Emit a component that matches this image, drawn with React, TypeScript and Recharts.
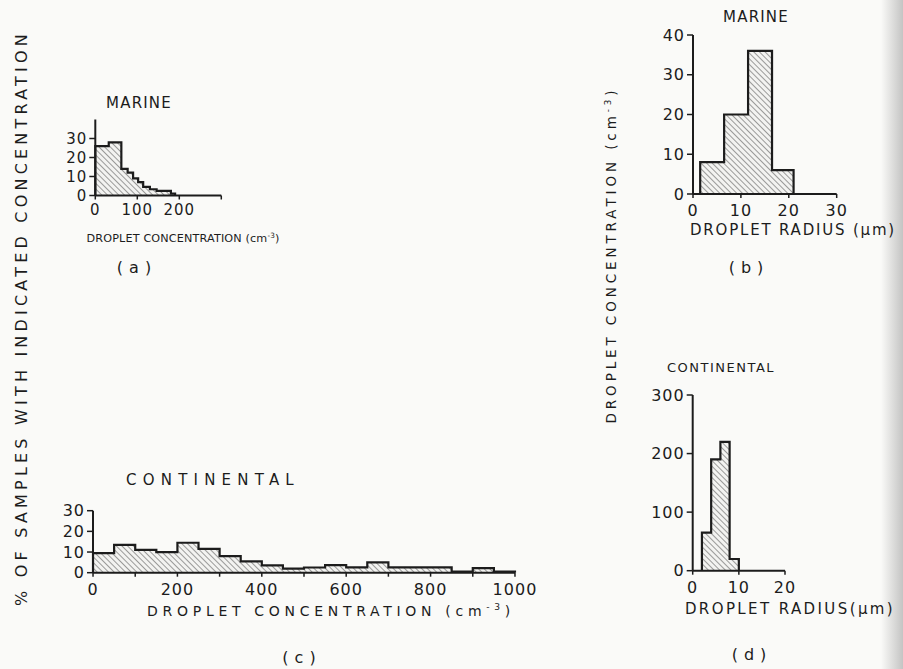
import React from 'react';
import { AreaChart, Area, XAxis, YAxis } from 'recharts';

// (a) marine, droplet concentration (cm-3) vs % of samples
const marineConcEdges = [0, 32, 62, 77, 90, 102, 114, 130, 146, 180, 190];
const marineConcPct = [26, 28, 14, 12, 9, 7, 4.5, 3.3, 2.4, 1];

// (b) marine, droplet radius (um) vs concentration
const marineRadEdges = [1.5, 6.5, 11.5, 16.5, 21];
const marineRadConc = [8, 20, 36, 6];

// (c) continental, droplet concentration, bins of 50 cm-3
const contConcEdges = [0, 50, 100, 150, 200, 250, 300, 350, 400, 450, 500, 550, 600, 650, 700, 750, 800, 850, 900, 950, 1000];
const contConcPct = [9.5, 13.5, 11, 10, 14.5, 11.5, 8, 5.5, 3.5, 2, 2.5, 3.7, 2.6, 5, 2.6, 2.6, 2.6, 0.5, 2.2, 0.5];

// (d) continental, droplet radius
const contRadEdges = [2, 4, 6, 8, 10];
const contRadConc = [65, 190, 220, 20];

const ticksA = [0, 100, 200, 300];
const ticksB = [0, 10, 20, 30];
const ticksC = [0, 100, 200, 300, 400, 500, 600, 700, 800, 900, 1000];
const ticksD = [0, 10, 20];
const yTicksPct = [0, 10, 20, 30];
const yTicksB = [0, 10, 20, 30, 40];
const yTicksD = [0, 100, 200, 300];

const ink = '#1c1c1c';
const font = '"DejaVu Sans", sans-serif';

// step outline: drop from baseline at first edge, hold each value, back down at last edge
function steps(edges: number[], vals: number[]) {
  const pts = [{ x: edges[0], v: 0 }];
  vals.forEach((v, i) => pts.push({ x: edges[i], v }));
  pts.push({ x: edges[edges.length - 1], v: vals[vals.length - 1] });
  pts.push({ x: edges[edges.length - 1], v: 0 });
  return pts;
}

type HistProps = {
  id: string;
  left: number; top: number;
  yw: number; mt: number; pw: number; ph: number;
  edges: number[]; vals: number[];
  xDomain: [number, number]; yDomain: [number, number];
  xTicks: number[]; yTicks: number[];
  fontSize: number; xMargin: number;
  xFmt?: (v: number) => string;
};

function Hist(p: HistProps) {
  const data = steps(p.edges, p.vals);
  const xh = 34;
  const tickStyle = { fill: ink, fontSize: p.fontSize, fontFamily: font, letterSpacing: 1 };
  return (
    <div style={{ position: 'absolute', left: p.left, top: p.top }}>
      <AreaChart width={p.yw + p.pw + 24} height={p.mt + p.ph + xh} data={data}
        margin={{ top: p.mt, right: 24, left: 0, bottom: 0 }}>
        <defs>
          <pattern id={p.id} width="4" height="4" patternUnits="userSpaceOnUse" patternTransform="rotate(-45)">
            <rect width="4" height="4" fill="#f3f3f1" />
            <line x1="0" y1="0" x2="0" y2="4" stroke="#5e5e5e" strokeWidth="1.2" />
          </pattern>
        </defs>
        <XAxis dataKey="x" type="number" domain={p.xDomain} ticks={p.xTicks} height={xh}
          axisLine={{ stroke: ink, strokeWidth: 2 }} tickLine={{ stroke: ink, strokeWidth: 1.5 }}
          tickSize={4} tickMargin={p.xMargin} tick={tickStyle} interval={0}
          tickFormatter={p.xFmt} />
        <YAxis type="number" domain={p.yDomain} ticks={p.yTicks} width={p.yw}
          axisLine={{ stroke: ink, strokeWidth: 2 }} tickLine={{ stroke: ink, strokeWidth: 1.5 }}
          tickSize={6} tickMargin={2} tick={tickStyle} interval={0} />
        <Area type="stepAfter" dataKey="v" stroke={ink} strokeWidth={2.2}
          fill={`url(#${p.id})`} fillOpacity={1} dot={false} activeDot={false}
          isAnimationActive={false} />
      </AreaChart>
    </div>
  );
}

function Txt(props: { x: number; y: number; size: number; ls?: number; rot?: number; children: React.ReactNode }) {
  return (
    <div style={{
      position: 'absolute', left: props.x, top: props.y, whiteSpace: 'nowrap', lineHeight: 1,
      transform: `translate(-50%, -50%) rotate(${props.rot || 0}deg)`,
      fontFamily: font, fontSize: props.size, letterSpacing: props.ls || 0, color: ink,
    }}>
      {props.children}
    </div>
  );
}

export default function App() {
  const cm3 = <span>(cm<sup style={{ fontSize: '0.65em', lineHeight: 0 }}>-3</sup>)</span>;
  return (
    <div style={{ position: 'absolute', left: 0, top: 0, width: 903, height: 669, overflow: 'hidden', background: '#fafaf8' }}>
      <div style={{ position: 'absolute', right: 0, top: 0, width: 22, height: 669, background: 'linear-gradient(to right, rgba(200,200,200,0), rgba(160,160,160,0.6))' }} />

      <Hist id="ha" left={50} top={110} yw={45.3} mt={9.5} pw={126} ph={76}
        edges={marineConcEdges} vals={marineConcPct} xDomain={[0, 300]} yDomain={[0, 40]}
        xTicks={ticksA} yTicks={yTicksPct} fontSize={15} xMargin={5}
        xFmt={(v) => (v === 300 ? '' : String(v))} />
      <Hist id="hb" left={630} top={25} yw={63} mt={10} pw={143.7} ph={159}
        edges={marineRadEdges} vals={marineRadConc} xDomain={[0, 30]} yDomain={[0, 40]}
        xTicks={ticksB} yTicks={yTicksB} fontSize={16} xMargin={7} />
      <Hist id="hc" left={30} top={500} yw={63} mt={10.7} pw={422} ph={62}
        edges={contConcEdges} vals={contConcPct} xDomain={[0, 1000]} yDomain={[0, 30]}
        xTicks={ticksC} yTicks={yTicksPct} fontSize={16} xMargin={7}
        xFmt={(v) => (v % 200 === 0 ? String(v) : '')} />
      <Hist id="hd" left={630} top={385} yw={62.7} mt={10} pw={92.3} ph={175.7}
        edges={contRadEdges} vals={contRadConc} xDomain={[0, 20]} yDomain={[0, 300]}
        xTicks={ticksD} yTicks={yTicksD} fontSize={16} xMargin={7} />

      <Txt x={22} y={318} size={16} ls={4.2} rot={-90}>% OF SAMPLES WITH INDICATED CONCENTRATION</Txt>
      <Txt x={612} y={255} size={13.5} ls={3.9} rot={-90}>DROPLET CONCENTRATION {cm3}</Txt>

      <Txt x={139} y={103} size={15} ls={1.2}>MARINE</Txt>
      <Txt x={183} y={239} size={11.2} ls={0.15}>DROPLET CONCENTRATION {cm3}</Txt>
      <Txt x={137} y={268} size={16} ls={6}>(a)</Txt>

      <Txt x={756} y={17} size={15} ls={1.2}>MARINE</Txt>
      <Txt x={793} y={230} size={15} ls={1.8}>DROPLET RADIUS (μm)</Txt>
      <Txt x={749} y={268} size={16} ls={6}>(b)</Txt>

      <Txt x={213} y={480} size={15} ls={6.2}>CONTINENTAL</Txt>
      <Txt x={331} y={611} size={14} ls={4.7}>DROPLET CONCENTRATION {cm3}</Txt>
      <Txt x={302} y={658} size={16} ls={6}>(c)</Txt>

      <Txt x={721} y={367} size={13} ls={1.5}>CONTINENTAL</Txt>
      <Txt x={790} y={609} size={15} ls={2.4}>DROPLET RADIUS(μm)</Txt>
      <Txt x={752} y={655} size={16} ls={6}>(d)</Txt>
    </div>
  );
}
